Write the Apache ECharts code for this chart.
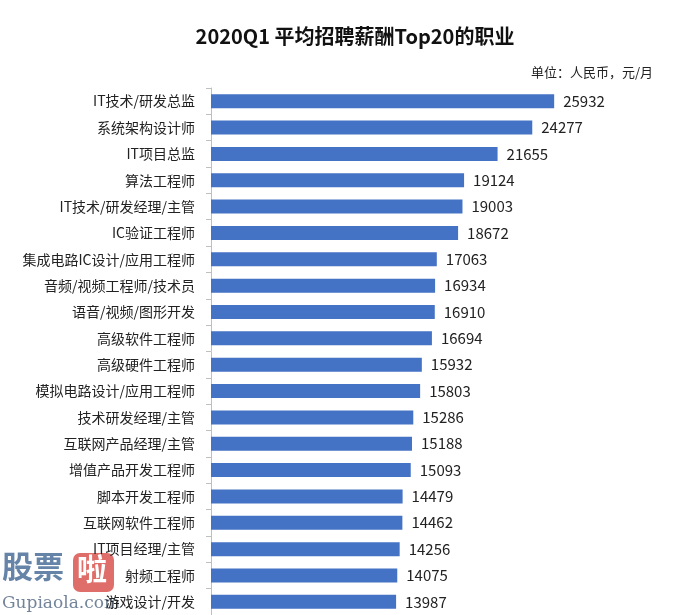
<!DOCTYPE html>
<html>
<head>
<meta charset="utf-8">
<script src="https://cdn.jsdelivr.net/npm/echarts@6/dist/echarts.min.js"></script>
<style>html,body{margin:0;padding:0;background:#fff;}#c{width:691px;height:615px;}</style>
</head>
<body>
<div id="c"></div>
<script>
const categories = ['IT技术/研发总监','系统架构设计师','IT项目总监','算法工程师','IT技术/研发经理/主管','IC验证工程师','集成电路IC设计/应用工程师','音频/视频工程师/技术员','语音/视频/图形开发','高级软件工程师','高级硬件工程师','模拟电路设计/应用工程师','技术研发经理/主管','互联网产品经理/主管','增值产品开发工程师','脚本开发工程师','互联网软件工程师','IT项目经理/主管','射频工程师','游戏设计/开发'];
const salaries = [25932,24277,21655,19124,19003,18672,17063,16934,16910,16694,15932,15803,15286,15188,15093,14479,14462,14256,14075,13987];
const titleText = '2020Q1 平均招聘薪酬Top20的职业';
const unitText = '单位：人民币，元/月';

const font = '"Noto Sans CJK SC", "Microsoft YaHei", sans-serif';
const chart = echarts.init(document.getElementById('c'));
chart.setOption({
  backgroundColor: '#fff',
  animation: false,
  title: [
    { text: titleText, left: 350, top: 21, textAlign: 'center',
      textStyle: { fontFamily: font, fontSize: 20, fontWeight: 'bold', color: '#111' } },
    { text: unitText, right: 33, top: 61,
      textStyle: { fontFamily: font, fontSize: 13, fontWeight: 'normal', color: '#222' } }
  ],
  grid: { left: 211, top: 88, width: 397, height: 527, containLabel: false },
  xAxis: { type: 'value', min: 0, max: 30000, show: false },
  yAxis: {
    type: 'category', data: categories, inverse: true,
    axisLine: { show: true, lineStyle: { color: '#bfbfbf', width: 1 } },
    axisTick: { show: true, length: 5, lineStyle: { color: '#bfbfbf' } },
    axisLabel: { fontFamily: font, fontSize: 14, color: '#222', margin: 16 },
    splitLine: { show: false }
  },
  series: [{
    type: 'bar', data: salaries, barWidth: 14,
    itemStyle: { color: '#4472C4' },
    label: { show: true, position: 'right', distance: 9, fontFamily: font, fontSize: 15, color: '#222' }
  }],
  graphic: [
    { type: 'rect', left: 0, top: 596, shape: { width: 112, height: 18 }, style: { fill: '#fff', opacity: 0.8 } },
    { type: 'text', left: 2, top: 551, style: { text: '股票', font: 'bold 31px "Noto Sans CJK SC"', fill: '#4a6f99', opacity: 0.85 } },
    { type: 'rect', left: 73, top: 553, shape: { width: 41, height: 39, r: 7 }, style: { fill: '#d9534f', opacity: 0.85 } },
    { type: 'text', left: 77, top: 554, style: { text: '啦', font: 'bold 30px "Noto Sans CJK SC"', fill: '#fff' } },
    { type: 'text', left: 2, top: 595, style: { text: 'Gupiaola.com', font: '17px "DejaVu Serif"', fill: '#5a6f88', opacity: 0.85 } }
  ]
});
</script>
</body>
</html>
